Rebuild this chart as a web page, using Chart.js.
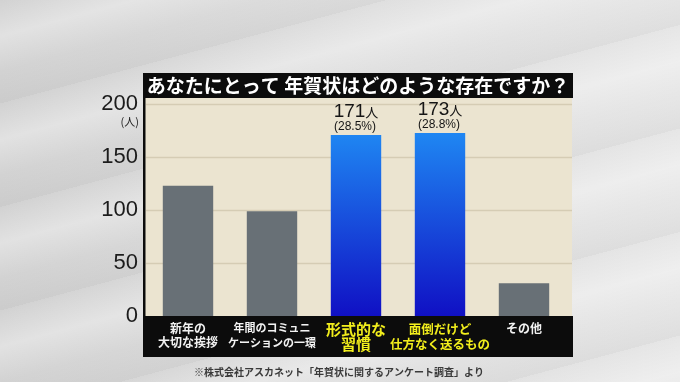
<!DOCTYPE html>
<html lang="ja">
<head>
<meta charset="utf-8">
<script src="https://cdn.jsdelivr.net/npm/chart.js@4.4.1/dist/chart.umd.min.js"></script>
<style>
  html, body { margin: 0; padding: 0; }
  body {
    width: 680px; height: 382px; overflow: hidden;
    background:
      repeating-linear-gradient(165deg, rgba(255,255,255,0) 0px, rgba(255,255,255,0.35) 35px, rgba(255,255,255,0) 70px, rgba(0,0,0,0.03) 100px),
      linear-gradient(90deg, #d2d2d2, #dfdfdf 55%, #e6e6e6);
  }
  canvas { display: block; }
</style>
</head>
<body>
<canvas id="surveyChart" width="680" height="382"></canvas>
<script>
const categories = [
    ["新年の", "大切な挨拶"],
    ["年間のコミュニ", "ケーションの一環"],
    ["形式的な", "習慣"],
    ["面倒だけど", "仕方なく送るもの"],
    ["その他"]
];
const counts = [123, 99, 171, 173, 31];
const shares = [null, null, "(28.5%)", "(28.8%)", null];
const highlighted = [false, false, true, true, false];
const yTicks = [0, 50, 100, 150, 200];
const chartTitle = "あなたにとって 年賀状はどのような存在ですか？";
const unitLabel = "(人)";
const sourceNote = "※株式会社アスカネット「年賀状に関するアンケート調査」より";

const JP = '"Noto Sans CJK JP", "Noto Sans", sans-serif';
const NUM = '"Liberation Sans", Arial, sans-serif';

function barColor(ctx) {
    const i = ctx.dataIndex;
    if (!highlighted[i]) return "#687076";
    const chart = ctx.chart;
    const area = chart.chartArea;
    if (!area) return "#1560e0";
    const y = chart.scales.y;
    const g = chart.ctx.createLinearGradient(0, y.getPixelForValue(175), 0, area.bottom);
    g.addColorStop(0, "#1f88f3");
    g.addColorStop(1, "#1010c4");
    return g;
}

const backdrop = {
    id: "backdrop",
    beforeDraw(chart) {
        const c = chart.ctx;
        const a = chart.chartArea;
        const y = chart.scales.y;
        const L = a.left - 3, R = a.right + 7;
        c.save();
        // title box
        c.fillStyle = "#0c0c0c";
        c.fillRect(L, a.top - 25, R - L, 25);
        c.fillStyle = "#ffffff";
        c.font = "bold 19px " + JP;
        c.textAlign = "center";
        c.textBaseline = "middle";
        c.fillText(chartTitle, (L + R) / 2, a.top - 12);
        // plot background
        c.fillStyle = "#ebe4d0";
        c.fillRect(a.left - 1, a.top, R - 1 - (a.left - 1), a.bottom - a.top);
        // grid lines
        c.strokeStyle = "#d5ccb4";
        c.lineWidth = 1.5;
        yTicks.forEach(v => {
            if (v === 0) return;
            const py = Math.round(y.getPixelForValue(v)) + 0.5;
            c.beginPath();
            c.moveTo(a.left, py);
            c.lineTo(R - 1, py);
            c.stroke();
        });
        // left edge + label band
        c.fillStyle = "#0c0c0c";
        c.fillRect(L, a.top, 2.5, a.bottom - a.top);
        c.fillRect(L, a.bottom, R - L, 41);
        // unit under the top tick
        c.fillStyle = "#1c1c1c";
        c.font = "11px " + JP;
        c.textAlign = "right";
        c.fillText(unitLabel, a.left - 7, y.getPixelForValue(200) + 17);
        // source
        c.fillStyle = "#3a3a3a";
        c.font = "bold 10px " + JP;
        c.textAlign = "center";
        c.fillText(sourceNote, 339, a.bottom + 56);
        c.restore();
    }
};

const valueLabels = {
    id: "valueLabels",
    afterDatasetsDraw(chart) {
        const c = chart.ctx;
        const meta = chart.getDatasetMeta(0);
        c.save();
        c.fillStyle = "#151515";
        c.textBaseline = "alphabetic";
        meta.data.forEach((bar, i) => {
            if (!shares[i]) return;
            const num = String(counts[i]);
            c.font = "19px " + NUM;
            const wNum = c.measureText(num).width;
            c.font = "13px " + JP;
            const wUnit = c.measureText("人").width;
            const x0 = bar.x - (wNum + wUnit) / 2;
            c.textAlign = "left";
            c.font = "19px " + NUM;
            c.fillText(num, x0, bar.y - 18);
            c.font = "13px " + JP;
            c.fillText("人", x0 + wNum, bar.y - 18);
            c.textAlign = "center";
            c.font = "12px " + NUM;
            c.fillText(shares[i], bar.x - 1, bar.y - 5);
        });
        c.restore();
    }
};

new Chart(document.getElementById("surveyChart").getContext("2d"), {
    type: "bar",
    data: {
        labels: categories,
        datasets: [{
            data: counts,
            backgroundColor: barColor,
            borderWidth: 0,
            barPercentage: 0.6,
            categoryPercentage: 1.0
        }]
    },
    options: {
        responsive: false,
        animation: false,
        devicePixelRatio: 1,
        layout: { padding: { left: 0, right: 114, top: 98, bottom: 25 } },
        plugins: { legend: { display: false }, tooltip: { enabled: false } },
        scales: {
            x: {
                grid: { display: false, drawTicks: false },
                border: { display: false },
                afterFit(scale) { scale.height = 41; },
                ticks: {
                    autoSkip: false,
                    maxRotation: 0,
                    minRotation: 0,
                    padding: 5,
                    color: ctx => highlighted[ctx.index] ? "#f2ee1c" : "#f2f2f2",
                    font: ctx => {
                        const i = ctx.index;
                        if (i === 2) return { family: JP, weight: "bold", size: 15, lineHeight: 1.05 };
                        if (i === 3) return { family: JP, weight: "bold", size: 12.5, lineHeight: 1.25 };
                        if (i === 1) return { family: JP, weight: "bold", size: 11, lineHeight: 1.3 };
                        return { family: JP, weight: "bold", size: 12, lineHeight: 1.2 };
                    }
                }
            },
            y: {
                min: 0,
                max: 206,
                grid: { display: false, drawTicks: false },
                border: { display: false },
                afterFit(scale) { scale.width = 146; },
                afterBuildTicks(scale) { scale.ticks = yTicks.map(v => ({ value: v })); },
                ticks: {
                    padding: 8,
                    color: "#1c1c1c",
                    font: { family: NUM, size: 22 }
                }
            }
        }
    },
    plugins: [backdrop, valueLabels]
});
</script>
</body>
</html>
